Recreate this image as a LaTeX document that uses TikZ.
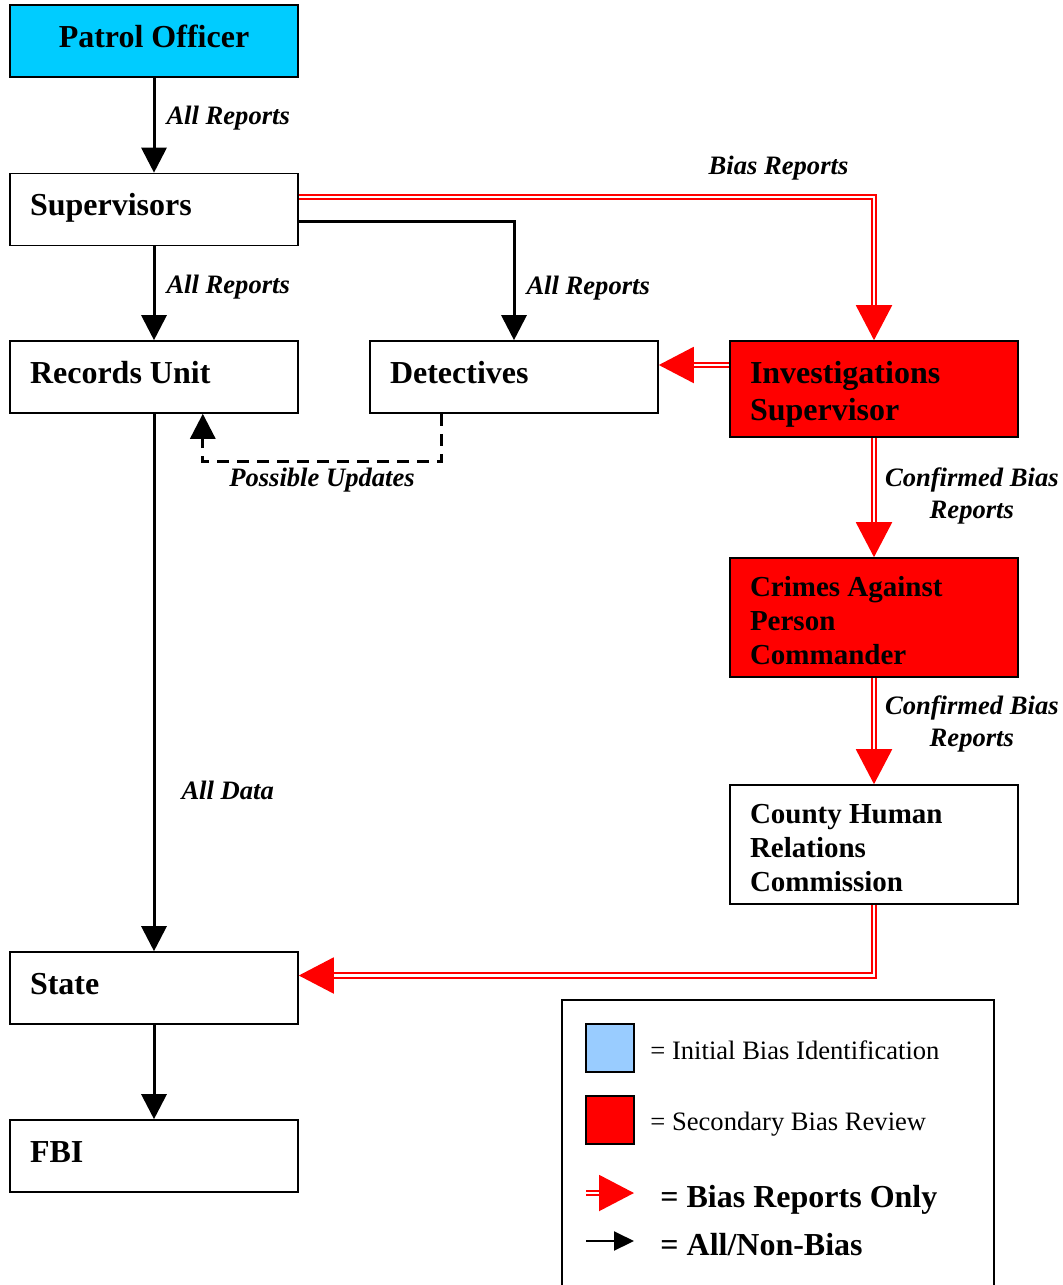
\documentclass[tikz,border=0pt]{standalone}
\usepackage{fontspec}
\setmainfont{Liberation Serif}
\usetikzlibrary{arrows.meta}

\definecolor{patrolblue}{RGB}{0,204,255}
\definecolor{keyblue}{RGB}{153,204,255}
\newcommand\unitfont{\fontsize{16}{17}\selectfont\bfseries}
\newcommand\widefont{\fontsize{16}{18.5}\selectfont\bfseries}
\newcommand\narrowfont{\fontsize{14.5}{17}\selectfont\bfseries}
\newcommand\flowfont{\fontsize{13.3}{16}\selectfont\bfseries\itshape}
\newcommand\keyfont{\fontsize{13.3}{16}\selectfont}

\begin{document}
\begin{tikzpicture}[
    x = 0.5pt, y = -0.5pt, % one unit = one pixel of the scan
    > = {Triangle[length=12.5pt, width=12.5pt]},
    font=\unitfont
]

\tikzstyle{unit}=[
    draw,
    line width = 0.8pt,
    fill = white,
    minimum width = 144pt,
    minimum height = 36pt,
    text width = 124pt,
    inner xsep = 10pt,
    align = flush left,
]
\tikzstyle{oneline}=[text height=11pt, text depth=5pt]
\tikzstyle{link}=[->, line width=1.5pt]
\tikzstyle{dashlink}=[->, line width=1.5pt, dash pattern=on 6pt off 4pt]
\tikzstyle{biaslink}=[
    draw = red,
    double = white,
    double distance = 1.25pt,
    line width = 1pt,
    -{Triangle[length=17.5pt, width=18pt]},
]
\tikzstyle{flow}=[font=\flowfont, inner sep=0pt]

\useasboundingbox (0,0) rectangle (1063,1285);

\node[unit, oneline, fill=patrolblue, align=flush center] (patrol) at (154,41) {Patrol Officer};
\node[unit, oneline] (sup) at (154,209.5) {Supervisors};
\node[unit, oneline] (rec) at (154,377) {Records Unit};
\node[unit, oneline] (det) at (514,377) {Detectives};
\node[unit, fill=red, minimum height=48pt, font=\widefont] (inv) at (874,389)
{\rule{0pt}{16pt}Investigations\\Supervisor};
\node[unit, fill=red, minimum height=59.5pt, font=\narrowfont] (cap) at (874,617.5)
{\rule{0pt}{13pt}Crimes Against\\Person\\Commander};
\node[unit, minimum height=59.5pt, font=\narrowfont] (chr) at (874,844.5)
{\rule{0pt}{13.5pt}County Human\\Relations\\Commission};
\node[unit, oneline] (state) at (154,988) {State};
\node[unit, oneline] (fbi) at (154,1156) {FBI};

\draw[link] (patrol) --
node[flow, right=5.5pt, pos=0.42] {All Reports} (sup);
\draw[link] (sup) --
node[flow, right=5.5pt, pos=0.43] {All Reports} (rec);
\draw[link] ([yshift=-5.75pt]sup.east) -|
node[flow, right=5.5pt, pos=0.78] {All Reports} (det.north);

\draw[biaslink] ([yshift=6.25pt]sup.east) -|
node[flow, above=8pt, pos=0.417] {Bias Reports} (inv.north);
\draw[biaslink] ([yshift=12pt]inv.west) -- ([yshift=12pt]inv.west -| det.east);
\draw[biaslink] (inv) --
node[flow, align=center, right=5pt, pos=0.485] {Confirmed Bias\\Reports} (cap);
\draw[biaslink] (cap) --
node[flow, align=center, right=5pt, pos=0.435] {Confirmed Bias\\Reports} (chr);
\draw[biaslink] (chr.south) |- ([yshift=6.25pt]state.east);

\draw[dashlink] ([xshift=36pt]det.south west) -- ++(0,-24pt) -|
node[flow, below=2.5pt, pos=0.25] {Possible Updates} ([xshift=-48pt]rec.south east);

\draw[link] (rec) --
node[flow, right=13pt, pos=0.70] {All Data} (state);
\draw[link] (state) -- (fbi);

% key
\draw[line width=1pt] (562,1285) |- (994,1000) -- (994,1285);
\node[draw, line width=0.8pt, fill=keyblue, minimum size=24pt, inner sep=0pt] (kblue) at (610,1048) {};
\node[draw, line width=0.8pt, fill=red, minimum size=24pt, inner sep=0pt] (kred) at (610,1120) {};
\node[font=\keyfont, anchor=west, inner sep=0pt] (tblue) at (650,1050) {= Initial Bias Identification};
\node[font=\keyfont, anchor=west, inner sep=0pt] (tred) at (650,1124) {= Secondary Bias Review};
\coordinate (kb0) at (586,1193);
\coordinate (kb1) at (634,1193);
\draw[biaslink] (kb0) -- (kb1);
\node[anchor=west, inner sep=0pt] (tbias) at (660,1200) {= Bias Reports Only};
\coordinate (ka0) at (586,1241);
\coordinate (ka1) at (634,1241);
\draw[-{Triangle[length=10pt, width=9.5pt]}, line width=1pt] (ka0) -- (ka1);
\node[anchor=west, inner sep=0pt] (tall) at (660,1245) {= All/Non-Bias};
\end{tikzpicture}
\end{document}
